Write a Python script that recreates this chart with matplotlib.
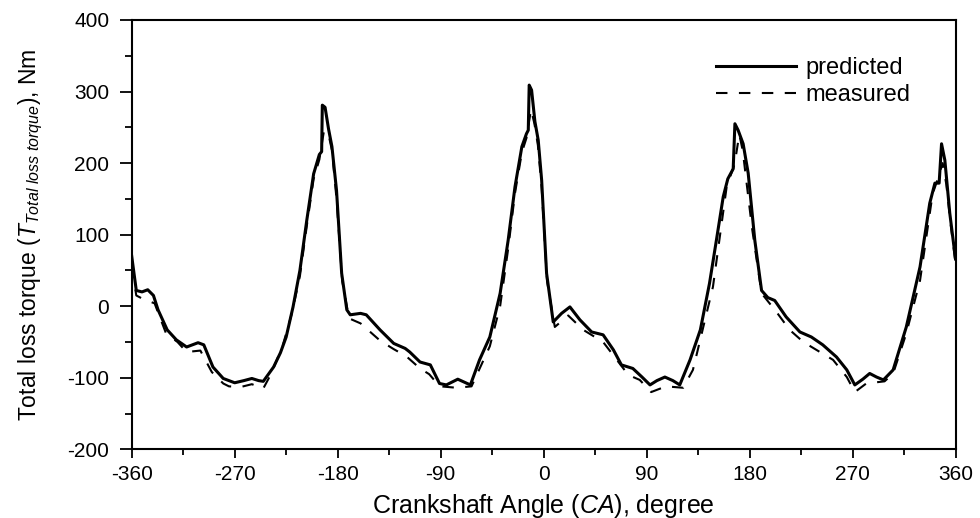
import matplotlib
matplotlib.use('Agg')
import matplotlib.pyplot as plt
from matplotlib.ticker import MultipleLocator

plt.rcParams['font.family'] = ['Liberation Sans', 'DejaVu Sans']
plt.rcParams['mathtext.fontset'] = 'custom'
plt.rcParams['mathtext.rm'] = 'Liberation Sans'
plt.rcParams['mathtext.it'] = 'Liberation Sans:italic'
plt.rcParams['axes.unicode_minus'] = False

# predicted total loss torque
pred_angle = [-360, -356, -351, -346, -341, -337, -329, -321, -312, -302, -297, -289, -280,
              -270, -262, -255, -249, -245, -236, -230, -225, -219, -213, -207, -201, -196, -194,
              -193.4, -191, -188, -185, -181, -176.5, -172, -169, -160, -155, -143, -131,
              -121, -117, -108, -99, -91, -85, -75, -64, -56, -47, -38, -31, -25, -19, -15,
              -13.4, -12.6, -10.5, -7.6, -4.7, -1.7, 2.6, 8.4, 15.7, 23, 31.7, 42, 52, 61,
              68, 78, 86, 93, 99, 106, 113, 119, 128, 137, 145, 151, 157, 161, 165.7, 167.2,
              170, 174.4, 178.8, 184.6, 190.5, 196, 202, 212, 224, 234, 244, 256, 265, 272,
              279, 285, 291, 297, 305.5, 317, 329, 337.5, 342, 345.7, 347.8, 350.7, 355, 360]
pred_torque = [70, 22, 20, 23, 15, -5, -33, -47, -57, -51, -54, -85, -101,
               -107, -104, -101, -104, -105, -85, -65, -43, -1, 50, 120, 185, 212, 216,
               281, 278, 248, 223, 162, 46, -5, -12, -10, -12, -33, -52,
               -59, -64, -78, -82, -108, -110, -102, -110, -75, -43, 18, 92, 167, 223, 241,
               246, 309, 302, 258, 232, 176, 46, -22, -10, -1, -19, -36, -40, -61,
               -82, -87, -99, -110, -104, -99, -104, -110, -75, -33, 32, 92, 153, 178, 192, 255,
               246, 227, 186, 92, 22, 12, 8, -15, -36, -43, -54, -71, -89, -110,
               -102, -94, -99, -103, -89, -29, 55, 144, 172, 172, 227, 204, 130, 66]

# measured total loss torque
meas_angle = [-360, -356, -350, -340, -330, -320, -312, -300, -290, -280, -275, -265, -255,
              -245, -238, -228, -220, -213, -207, -201, -196, -192, -188, -185, -181, -176,
              -170, -160, -143, -131, -120, -108, -100, -93, -90, -76, -63, -55, -47, -38,
              -31, -25, -19, -15, -11, -8, -5, -1.7, 3, 9.8, 21.5, 34.6, 52, 64, 74, 84, 94,
              107, 122, 130.5, 134, 148, 160, 167, 171, 174, 182, 190.5, 203.5, 215, 227,
              241.5, 253, 265, 272, 282, 298, 305.5, 317, 329, 340, 345, 348.8, 352, 356, 360]
meas_torque = [55, 15, 10, 4, -38, -50, -64, -62, -92, -108, -112, -113, -109,
               -115, -94, -55, -10, 42, 112, 178, 205, 245, 240, 218, 150, 35,
               -17, -24, -48, -60, -70, -87, -95, -108, -112, -114, -112, -84, -56, 0,
               80, 158, 215, 235, 275, 255, 225, 165, 35, -29, -13, -33, -50, -75, -96, -103, -120,
               -112, -114, -89, -66, 27, 167, 199, 240, 218, 111, 18, -8, -33, -50,
               -64, -75, -99, -120, -108, -105, -94, -38, 36, 157, 180, 200, 170, 111, 60]

fig = plt.figure(figsize=(9.8, 5.18), dpi=100)
ax = fig.add_axes([0.1344, 0.1326, 0.8406, 0.8288])

ax.plot(pred_angle, pred_torque, color='black', lw=2.2, label='predicted',
        solid_joinstyle='round')
ax.plot(meas_angle, meas_torque, color='black', lw=1.5, linestyle=(0, (5.5, 5.5)), label='measured')

ax.set_xlim(-360, 360)
ax.set_ylim(-200, 400)
ax.xaxis.set_major_locator(MultipleLocator(90))
ax.xaxis.set_minor_locator(MultipleLocator(45))
ax.yaxis.set_major_locator(MultipleLocator(100))
ax.yaxis.set_minor_locator(MultipleLocator(50))

for s in ax.spines.values():
    s.set_linewidth(1.5)
ax.tick_params(axis='both', which='both', direction='out', top=False, right=False, width=1.3)
ax.tick_params(axis='x', which='major', length=6.5, pad=4.5, labelsize=15)
ax.tick_params(axis='x', which='minor', length=4)
ax.tick_params(axis='y', which='major', length=8.6, pad=7.5, labelsize=15)
ax.tick_params(axis='y', which='minor', length=5)

ax.set_xlabel('Crankshaft Angle ($\\mathit{CA}$), degree', fontsize=18, labelpad=6)
ax.set_ylabel('Total loss torque ($\\mathit{T}_{\\mathit{Total\\ loss\\ torque}}$), Nm',
              fontsize=16.5, labelpad=16)

ax.legend(loc='upper right', frameon=False, fontsize=17, handlelength=3.4,
          handletextpad=0.4, labelspacing=0.2, borderaxespad=0.0,
          bbox_to_anchor=(0.957, 0.935))

fig.savefig('out.png', dpi=100)
